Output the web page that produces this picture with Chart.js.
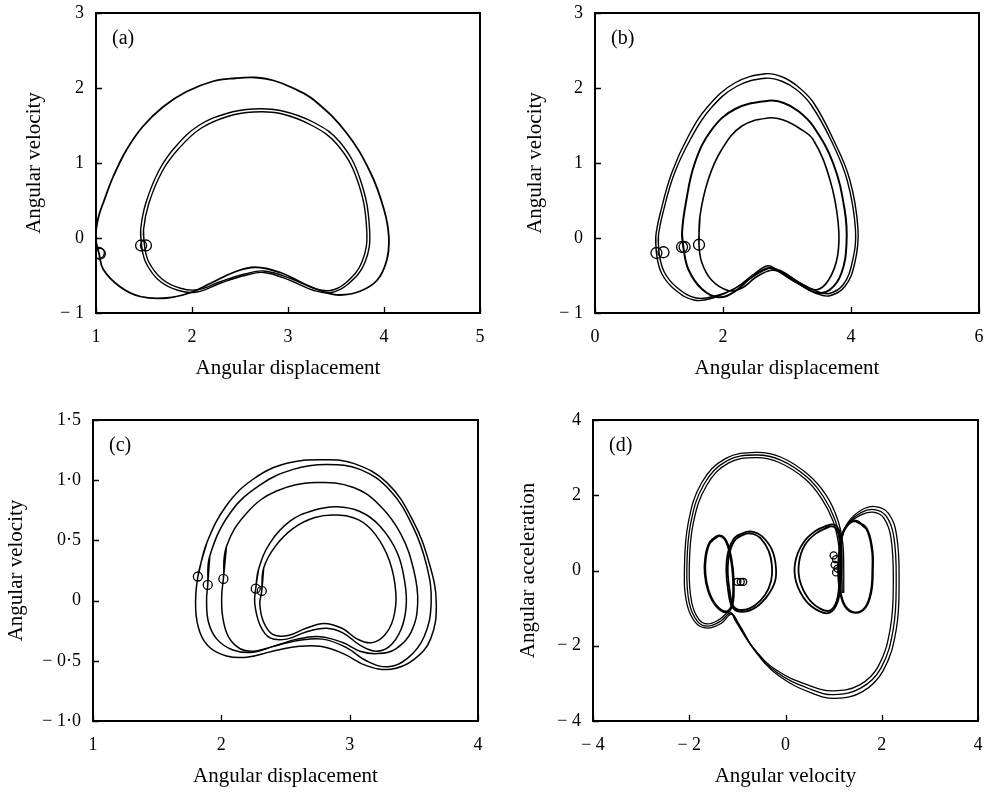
<!DOCTYPE html>
<html>
<head>
<meta charset="utf-8">
<script src="https://cdn.jsdelivr.net/npm/chart.js@4.4.1/dist/chart.umd.min.js"></script>
<style>
  html, body { margin: 0; padding: 0; background: #fff; }
  #wrap { position: relative; width: 988px; height: 792px; }
  .panel { position: absolute; width: 494px; height: 396px; }
</style>
</head>
<body>
<div id="wrap">
  <div class="panel" style="left:0;top:0"><canvas id="chartA" width="494" height="396"></canvas></div>
  <div class="panel" style="left:494px;top:0"><canvas id="chartB" width="494" height="396"></canvas></div>
  <div class="panel" style="left:0;top:396px"><canvas id="chartC" width="494" height="396"></canvas></div>
  <div class="panel" style="left:494px;top:396px"><canvas id="chartD" width="494" height="396"></canvas></div>
</div>
<script>
(function () {
  "use strict";

  // ---- tick labels ----
  const A_XTICKS = ["1", "2", "3", "4", "5"];
  const A_YTICKS = ["\u2212 1", "0", "1", "2", "3"];
  const B_XTICKS = ["0", "2", "4", "6"];
  const B_YTICKS = ["\u2212 1", "0", "1", "2", "3"];
  const C_XTICKS = ["1", "2", "3", "4"];
  const C_YTICKS = ["\u2212 1\u00b70", "\u2212 0\u00b75", "0", "0\u00b75", "1\u00b70", "1\u00b75"];
  const D_XTICKS = ["\u2212 4", "\u2212 2", "0", "2", "4"];
  const D_YTICKS = ["\u2212 4", "\u2212 2", "0", "2", "4"];

  // ---- (a) angular displacement vs angular velocity ----
  const A_OUTER = [[1.03,-0.20],[1.00,-0.05],[1.00,0.10],[1.03,0.30],[1.076,0.47],[1.18,0.82],[1.32,1.18],[1.49,1.49],[1.70,1.75],[1.94,1.95],[2.22,2.09],[2.45,2.13],[2.66,2.14],[2.85,2.10],[3.05,2.00],[3.27,1.84],[3.61,1.40],[3.86,0.87],[4.00,0.38],[4.05,0.02],[4.03,-0.29],[3.93,-0.56],[3.75,-0.71],[3.54,-0.76],[3.38,-0.72],[3.15,-0.60],[2.92,-0.46],[2.66,-0.39],[2.45,-0.45],[2.20,-0.60],[1.98,-0.73],[1.735,-0.80],[1.46,-0.78],[1.25,-0.65],[1.076,-0.42]];
  const A_INNER1 = [[1.475,-0.10],[1.465,0.11],[1.52,0.47],[1.66,0.91],[1.83,1.22],[2.07,1.50],[2.36,1.66],[2.64,1.72],[2.92,1.70],[3.27,1.54],[3.54,1.28],[3.75,0.79],[3.85,0.11],[3.80,-0.33],[3.62,-0.62],[3.44,-0.73],[3.27,-0.70],[3.03,-0.57],[2.75,-0.46],[2.55,-0.50],[2.30,-0.60],[2.05,-0.72],[1.86,-0.70],[1.66,-0.57],[1.52,-0.33]];
  const A_INNER2 = [[1.505,-0.10],[1.495,0.11],[1.55,0.46],[1.69,0.89],[1.86,1.19],[2.09,1.46],[2.37,1.62],[2.64,1.68],[2.92,1.66],[3.25,1.50],[3.51,1.25],[3.72,0.78],[3.82,0.11],[3.77,-0.32],[3.60,-0.60],[3.44,-0.70],[3.27,-0.67],[3.03,-0.54],[2.75,-0.44],[2.55,-0.48],[2.30,-0.58],[2.06,-0.69],[1.88,-0.67],[1.69,-0.55],[1.55,-0.32]];
  const A_MARKS = [[1.03,-0.20],[1.04,-0.21],[1.47,-0.10],[1.52,-0.10]];

  // ---- (b) ----
  const B_OUTER1 = [[0.96,-0.20],[0.95,0.02],[1.02,0.33],[1.20,0.87],[1.46,1.36],[1.77,1.76],[2.19,2.07],[2.66,2.19],[2.92,2.15],[3.17,2.02],[3.41,1.81],[3.72,1.32],[3.98,0.78],[4.11,0.11],[4.06,-0.33],[3.91,-0.64],[3.67,-0.77],[3.46,-0.74],[3.15,-0.60],[2.89,-0.46],[2.71,-0.37],[2.50,-0.47],[2.19,-0.67],[1.875,-0.79],[1.56,-0.83],[1.25,-0.69],[1.04,-0.47]];
  const B_OUTER2 = [[1.00,-0.19],[0.99,0.02],[1.06,0.33],[1.24,0.86],[1.50,1.33],[1.80,1.72],[2.21,2.02],[2.66,2.13],[2.92,2.09],[3.16,1.97],[3.38,1.77],[3.69,1.30],[3.94,0.77],[4.07,0.11],[4.02,-0.32],[3.88,-0.62],[3.66,-0.74],[3.47,-0.71],[3.17,-0.58],[2.91,-0.44],[2.74,-0.40],[2.52,-0.49],[2.21,-0.66],[1.89,-0.77],[1.58,-0.80],[1.28,-0.66],[1.08,-0.45]];
  const B_MID = [[1.38,-0.12],[1.36,0.07],[1.42,0.47],[1.56,1.00],[1.82,1.44],[2.19,1.72],[2.71,1.83],[2.95,1.80],[3.18,1.69],[3.41,1.49],[3.72,1.00],[3.90,0.38],[3.93,-0.07],[3.85,-0.47],[3.67,-0.69],[3.46,-0.73],[3.17,-0.60],[2.91,-0.46],[2.71,-0.40],[2.45,-0.52],[2.19,-0.71],[1.93,-0.79],[1.67,-0.68],[1.46,-0.42]];
  const B_INNER = [[1.625,-0.09],[1.64,0.29],[1.77,0.78],[1.98,1.18],[2.29,1.49],[2.71,1.60],[2.95,1.57],[3.18,1.47],[3.41,1.31],[3.67,0.78],[3.80,0.20],[3.79,-0.24],[3.65,-0.56],[3.46,-0.69],[3.20,-0.60],[2.93,-0.46],[2.75,-0.43],[2.52,-0.52],[2.29,-0.67],[2.08,-0.70],[1.82,-0.56],[1.67,-0.33]];
  const B_MARKS = [[0.96,-0.20],[1.07,-0.19],[1.36,-0.12],[1.40,-0.12],[1.625,-0.09]];

  // ---- (c) ----
  const C_LOOP1 = [[1.817,0.20],[1.887,0.48],[2.04,0.79],[2.25,1.01],[2.51,1.14],[2.79,1.17],[3.03,1.14],[3.29,0.98],[3.49,0.67],[3.62,0.31],[3.675,-0.02],[3.63,-0.32],[3.50,-0.49],[3.32,-0.57],[3.13,-0.54],[2.95,-0.44],[2.77,-0.38],[2.61,-0.38],[2.40,-0.42],[2.20,-0.47],[2.04,-0.46],[1.91,-0.39],[1.835,-0.27],[1.80,-0.07]];
  const C_LOOP2 = [[1.894,0.13],[1.91,0.37],[2.07,0.73],[2.30,0.96],[2.56,1.09],[2.82,1.13],[3.08,1.09],[3.31,0.92],[3.49,0.62],[3.60,0.29],[3.635,-0.02],[3.58,-0.30],[3.45,-0.48],[3.30,-0.55],[3.13,-0.50],[2.975,-0.39],[2.79,-0.32],[2.61,-0.33],[2.405,-0.38],[2.25,-0.43],[2.09,-0.41],[1.965,-0.32],[1.90,-0.18],[1.885,0.00]];
  const C_LOOP3 = [[2.016,0.18],[2.04,0.45],[2.20,0.73],[2.43,0.91],[2.74,0.98],[3.03,0.94],[3.235,0.79],[3.40,0.55],[3.50,0.25],[3.53,-0.02],[3.48,-0.26],[3.36,-0.40],[3.22,-0.44],[3.08,-0.42],[2.95,-0.35],[2.77,-0.30],[2.59,-0.32],[2.405,-0.38],[2.25,-0.42],[2.146,-0.40],[2.055,-0.30],[2.01,-0.13],[2.003,0.04]];
  const C_LOOP4 = [[2.268,0.10],[2.29,0.26],[2.38,0.48],[2.535,0.66],[2.72,0.75],[2.90,0.78],[3.08,0.74],[3.235,0.62],[3.37,0.40],[3.43,0.15],[3.44,-0.05],[3.40,-0.24],[3.31,-0.38],[3.20,-0.42],[3.08,-0.37],[2.95,-0.27],[2.82,-0.23],[2.66,-0.26],[2.51,-0.32],[2.38,-0.31],[2.30,-0.20],[2.26,-0.02]];
  const C_LOOP5 = [[2.315,0.08],[2.33,0.27],[2.42,0.45],[2.56,0.60],[2.73,0.69],[2.90,0.71],[3.07,0.67],[3.20,0.55],[3.31,0.33],[3.36,0.06],[3.34,-0.15],[3.27,-0.29],[3.17,-0.35],[3.06,-0.32],[2.94,-0.23],[2.80,-0.19],[2.66,-0.23],[2.52,-0.29],[2.40,-0.28],[2.33,-0.18],[2.30,-0.03]];
  const C_MARKS = [[1.817,0.20],[1.894,0.13],[2.016,0.18],[2.268,0.10],[2.315,0.08]];

  // ---- (d) angular velocity vs angular acceleration ----
  const D_ARC_A = [[1.21,-0.60],[1.21,0.01],[1.19,0.72],[1.08,1.37],[0.84,2.01],[0.47,2.55],[-0.09,3.01],[-0.60,3.14],[-1.24,2.98],[-1.74,2.34],[-2.02,1.27],[-2.10,0.03],[-2.05,-0.88],[-1.86,-1.40],[-1.62,-1.53],[-1.33,-1.40],[-1.12,-1.16],[-0.97,-1.42],[-0.62,-2.16],[-0.14,-2.80],[0.55,-3.26],[1.03,-3.40],[1.60,-3.22],[2.03,-2.66],[2.30,-1.58],[2.36,-0.24],[2.31,0.92],[2.14,1.52],[1.86,1.70],[1.57,1.60],[1.30,1.28],[1.17,0.85],[1.12,0.20]];
  const D_ARC_B = [[1.18,-0.60],[1.17,0.01],[1.14,0.72],[1.03,1.34],[0.79,1.96],[0.44,2.49],[-0.11,2.94],[-0.60,3.07],[-1.21,2.92],[-1.69,2.30],[-1.97,1.25],[-2.05,0.03],[-2.00,-0.86],[-1.83,-1.35],[-1.62,-1.48],[-1.35,-1.35],[-1.14,-1.13],[-1.00,-1.39],[-0.65,-2.10],[-0.17,-2.72],[0.53,-3.16],[1.01,-3.30],[1.57,-3.12],[1.98,-2.60],[2.24,-1.55],[2.30,-0.24],[2.25,0.90],[2.09,1.45],[1.84,1.62],[1.57,1.54],[1.29,1.24],[1.17,0.90],[1.13,0.20]];
  const D_ARC_C = [[1.15,-0.60],[1.14,0.01],[1.10,0.72],[0.99,1.31],[0.75,1.91],[0.41,2.43],[-0.13,2.87],[-0.60,3.00],[-1.18,2.86],[-1.64,2.26],[-1.92,1.23],[-2.00,0.03],[-1.95,-0.84],[-1.80,-1.30],[-1.62,-1.42],[-1.37,-1.30],[-1.16,-1.10],[-1.03,-1.36],[-0.68,-2.04],[-0.20,-2.64],[0.50,-3.06],[0.99,-3.20],[1.54,-3.04],[1.93,-2.54],[2.18,-1.52],[2.24,-0.24],[2.19,0.88],[2.04,1.40],[1.82,1.55],[1.57,1.48],[1.28,1.20],[1.17,0.88],[1.13,0.20]];
  const D_L1 = [[-1.40,0.92],[-1.57,0.75],[-1.66,0.35],[-1.67,-0.10],[-1.60,-0.55],[-1.45,-0.92],[-1.25,-1.10],[-1.12,-0.95],[-1.08,-0.50],[-1.10,0.05],[-1.17,0.55],[-1.27,0.85]];
  const D_L2 = [[-0.81,1.03],[-1.05,0.88],[-1.19,0.50],[-1.23,0.00],[-1.19,-0.55],[-1.10,-0.98],[-0.90,-1.10],[-0.62,-0.98],[-0.38,-0.68],[-0.22,-0.30],[-0.20,0.10],[-0.28,0.55],[-0.48,0.90],[-0.65,1.02]];
  const D_L2B = [[-0.82,0.98],[-1.03,0.84],[-1.16,0.48],[-1.20,0.00],[-1.16,-0.53],[-1.08,-0.95],[-0.90,-1.05],[-0.64,-0.93],[-0.42,-0.64],[-0.30,-0.28],[-0.28,0.10],[-0.35,0.52],[-0.52,0.86],[-0.67,0.97]];
  const D_R1 = [[0.93,1.22],[0.62,1.05],[0.35,0.70],[0.20,0.20],[0.22,-0.30],[0.42,-0.80],[0.70,-1.08],[0.92,-1.12],[1.08,-0.85],[1.15,-0.30],[1.17,0.30],[1.15,0.85],[1.08,1.15]];
  const D_R1B = [[0.93,1.17],[0.65,1.00],[0.40,0.67],[0.28,0.20],[0.30,-0.28],[0.48,-0.75],[0.73,-1.02],[0.93,-1.06],[1.06,-0.82],[1.12,-0.30],[1.14,0.30],[1.12,0.82],[1.06,1.10]];
  const D_R2 = [[1.45,1.32],[1.68,1.12],[1.80,0.55],[1.81,0.00],[1.78,-0.55],[1.66,-0.98],[1.45,-1.12],[1.24,-0.95],[1.13,-0.50],[1.10,0.00],[1.13,0.60],[1.23,1.10]];
  const D_MARKS_L = [[-1.00,-0.30],[-0.93,-0.30],[-0.88,-0.30]];
  const D_MARKS_R = [[1.00,0.40],[1.05,0.30],[1.02,0.15],[1.08,0.05],[1.05,-0.05]];

  const FONT = '"Liberation Serif", "Times New Roman", serif';

  const toXY = pts => pts.map(p => ({ x: p[0], y: p[1] }));

  function loopSet(pts, w) {
    // repeat the first two points so the closed loop joins smoothly
    return { data: toXY(pts.concat([pts[0], pts[1]])), showLine: true, borderColor: "#000",
             borderWidth: w || 1.5, pointRadius: 0, tension: 0.4 };
  }

  function pathSet(pts, w) {
    return { data: toXY(pts), showLine: true, borderColor: "#000",
             borderWidth: w || 1.5, pointRadius: 0, tension: 0.4 };
  }

  function markerSet(pts, r) {
    return { data: toXY(pts), showLine: false, pointRadius: r, pointStyle: "circle",
             pointBorderColor: "#000", pointBorderWidth: 1.3, pointBackgroundColor: "rgba(0,0,0,0)" };
  }

  // box frame, inward tick marks and the panel letter
  const framePlugin = {
    id: "frame",
    afterDraw(chart, args, opts) {
      const { ctx, chartArea: a, scales: { x, y } } = chart;
      ctx.save();
      ctx.strokeStyle = "#000";
      ctx.lineWidth = 2;
      ctx.strokeRect(a.left, a.top, a.right - a.left, a.bottom - a.top);
      ctx.lineWidth = 1.3;
      ctx.beginPath();
      x.ticks.forEach(t => {
        const px = Math.round(x.getPixelForValue(t.value)) + 0.5;
        ctx.moveTo(px, a.bottom); ctx.lineTo(px, a.bottom - 6);
      });
      y.ticks.forEach(t => {
        const py = Math.round(y.getPixelForValue(t.value)) + 0.5;
        ctx.moveTo(a.left, py); ctx.lineTo(a.left + 6, py);
      });
      ctx.stroke();
      ctx.fillStyle = "#000";
      ctx.font = "20px " + FONT;
      ctx.textBaseline = "middle";
      ctx.textAlign = "left";
      ctx.fillText(opts.label, a.left + 16, a.top + 26);
      ctx.restore();
    }
  };

  function makePanel(id, p) {
    const tickFont = { family: FONT, size: 18 };
    const titleFont = { family: FONT, size: 21 };
    return new Chart(document.getElementById(id), {
      type: "scatter",
      data: { datasets: p.datasets },
      options: {
        responsive: false,
        animation: false,
        devicePixelRatio: 1,
        layout: { autoPadding: false, padding: { top: p.padTop, right: p.padRight, left: 0, bottom: 0 } },
        plugins: { legend: { display: false }, tooltip: { enabled: false }, frame: { label: p.label } },
        scales: {
          x: {
            type: "linear", min: p.xMin, max: p.xMax,
            grid: { display: false, drawTicks: false }, border: { display: false },
            ticks: { stepSize: p.xStep, padding: 13, color: "#000", font: tickFont, maxRotation: 0, autoSkip: false,
                     callback: (v, i) => p.xTicks[i] },
            title: { display: true, text: p.xTitle, color: "#000", font: titleFont, padding: { top: 0, bottom: p.xTitlePad } },
            afterFit: s => { s.height = p.xAxisH; s.paddingLeft = 0; s.paddingRight = 0; }
          },
          y: {
            type: "linear", min: p.yMin, max: p.yMax,
            grid: { display: false, drawTicks: false }, border: { display: false },
            ticks: { stepSize: p.yStep, padding: 12, color: "#000", font: tickFont, autoSkip: false,
                     callback: (v, i) => p.yTicks[i] },
            title: { display: true, text: p.yTitle, color: "#000", font: titleFont, padding: { top: p.yTitlePad, bottom: 0 } },
            afterFit: s => { s.width = p.yAxisW; s.paddingTop = 0; s.paddingBottom = 0; }
          }
        }
      },
      plugins: [framePlugin]
    });
  }

  makePanel("chartA", {
    label: "(a)",
    datasets: [loopSet(A_OUTER, 1.8), loopSet(A_INNER1, 1.4), loopSet(A_INNER2, 1.4), markerSet(A_MARKS, 5.5)],
    xMin: 1, xMax: 5, xStep: 1, xTicks: A_XTICKS, yMin: -1, yMax: 3, yStep: 1, yTicks: A_YTICKS,
    xTitle: "Angular displacement", yTitle: "Angular velocity",
    padTop: 13, padRight: 14, yAxisW: 96, xAxisH: 83, xTitlePad: 15, yTitlePad: 22
  });

  makePanel("chartB", {
    label: "(b)",
    datasets: [loopSet(B_OUTER1, 1.4), loopSet(B_OUTER2, 1.4), loopSet(B_MID, 2), loopSet(B_INNER, 1.6), markerSet(B_MARKS, 5.5)],
    xMin: 0, xMax: 6, xStep: 2, xTicks: B_XTICKS, yMin: -1, yMax: 3, yStep: 1, yTicks: B_YTICKS,
    xTitle: "Angular displacement", yTitle: "Angular velocity",
    padTop: 13, padRight: 9, yAxisW: 101, xAxisH: 83, xTitlePad: 15, yTitlePad: 29
  });

  makePanel("chartC", {
    label: "(c)",
    datasets: [loopSet(C_LOOP1), loopSet(C_LOOP2), loopSet(C_LOOP3), loopSet(C_LOOP4), loopSet(C_LOOP5), markerSet(C_MARKS, 4.5)],
    xMin: 1, xMax: 4, xStep: 1, xTicks: C_XTICKS, yMin: -1, yMax: 1.5, yStep: 0.5, yTicks: C_YTICKS,
    xTitle: "Angular displacement", yTitle: "Angular velocity",
    padTop: 24, padRight: 16, yAxisW: 93, xAxisH: 71, xTitlePad: 3, yTitlePad: 4
  });

  makePanel("chartD", {
    label: "(d)",
    datasets: [pathSet(D_ARC_A, 1.3), pathSet(D_ARC_B, 1.3), pathSet(D_ARC_C, 1.3),
               loopSet(D_L1, 2.6), loopSet(D_L2, 1.8), loopSet(D_L2B, 1.8),
               loopSet(D_R1, 1.8), loopSet(D_R1B, 1.8), loopSet(D_R2, 2.4),
               markerSet(D_MARKS_L, 3.5), markerSet(D_MARKS_R, 3.5)],
    xMin: -4, xMax: 4, xStep: 2, xTicks: D_XTICKS, yMin: -4, yMax: 4, yStep: 2, yTicks: D_YTICKS,
    xTitle: "Angular velocity", yTitle: "Angular acceleration",
    padTop: 24, padRight: 10, yAxisW: 99, xAxisH: 71, xTitlePad: 3, yTitlePad: 22
  });
})();
</script>
</body>
</html>
